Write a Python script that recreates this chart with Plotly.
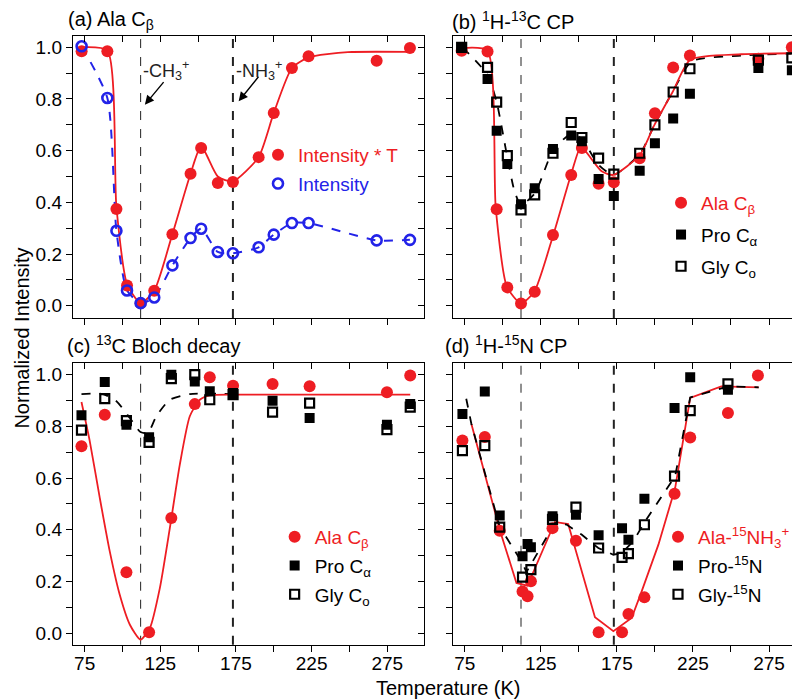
import plotly.graph_objects as go

FONT = "Liberation Sans, Arial, Helvetica, sans-serif"
RED = "#ee1d23"
BLUE = "#2323e8"
BLACK = "#000000"

# ---------------- tick labels / reference lines ----------------
x_tickvals = [75, 100, 125, 150, 175, 200, 225, 250, 275]
x_ticktext = ["75", "", "125", "", "175", "", "225", "", "275"]
y_tickvals = [0.0, 0.1, 0.2, 0.3, 0.4, 0.5, 0.6, 0.7, 0.8, 0.9, 1.0]
y_ticktext = ["0.0", "", "0.2", "", "0.4", "", "0.6", "", "0.8", "", "1.0"]
transition_T = [112, 173]
transition_width = [1.0, 2.0]

# ---------------- panel (a) Ala C-beta ----------------
T_cp = [73, 90, 96, 103, 112, 121, 133, 145, 152, 163, 173, 190, 200, 212, 223, 268, 290]
a_int_T = [0.985, 0.985, 0.374, 0.078, 0.010, 0.058, 0.277, 0.511, 0.610, 0.475, 0.479, 0.575, 0.746, 0.920, 0.965, 0.948, 0.997]
a_int = [1.004, 0.804, 0.290, 0.059, 0.010, 0.032, 0.156, 0.262, 0.298, 0.208, 0.203, 0.226, 0.275, 0.320, 0.320, 0.253, 0.255]
a_fit_T = [73, 90, 96, 103, 112, 121, 133, 145, 152, 163, 173, 190, 200, 212, 223, 249, 290]
a_fit = [1.0, 0.987, 0.381, 0.084, 0.010, 0.058, 0.277, 0.511, 0.617, 0.500, 0.481, 0.575, 0.746, 0.920, 0.961, 0.981, 0.982]

# ---------------- panel (b) 1H-13C CP ----------------
b_ala = [0.987, 0.984, 0.373, 0.071, 0.009, 0.054, 0.274, 0.506, 0.610, 0.472, 0.478, 0.571, 0.745, 0.922, 0.968, 0.956, 1.000]
b_pro = [1.000, 0.877, 0.677, 0.548, 0.393, 0.455, 0.606, 0.659, 0.636, 0.490, 0.425, 0.522, 0.629, 0.724, 0.820, 0.920, 0.911]
b_gly = [1.000, 0.922, 0.788, 0.581, 0.371, 0.429, 0.590, 0.709, 0.651, 0.571, 0.509, 0.590, 0.700, 0.827, 0.917, 0.950, 0.959]
b_fit_T = [73.5, 89.9, 95.4, 102.7, 111.9, 120.7, 133.2, 144.8, 151.4, 158, 165, 172.7, 190.2, 199.7, 211.8, 223.2, 256.8, 289.7]
b_fit = [0.997, 0.987, 0.377, 0.074, 0.009, 0.054, 0.274, 0.506, 0.616, 0.570, 0.520, 0.506, 0.584, 0.700, 0.829, 0.952, 0.973, 0.977]
b_dash_T = [73.5, 89.9, 96, 102.7, 107.5, 111.9, 121.1, 133.2, 144.8, 151.8, 163, 172.7, 190.2, 199.7, 211.8, 224.3, 256.8, 289.7]
b_dash = [1.0, 0.894, 0.788, 0.584, 0.448, 0.390, 0.435, 0.603, 0.664, 0.646, 0.545, 0.506, 0.588, 0.700, 0.829, 0.946, 0.968, 0.976]

# ---------------- panel (c) 13C Bloch decay ----------------
c_T = [72.9, 88.3, 102.6, 117.6, 132.3, 147.8, 157.7, 173.1, 199.2, 223.7, 274.8, 290.2]
c_ala = [0.723, 0.845, 0.235, 0.003, 0.445, 0.886, 0.990, 0.957, 0.964, 0.955, 0.932, 0.997]
c_pro = [0.843, 0.972, 0.806, 0.758, 1.000, 0.974, 0.936, 0.929, 0.899, 0.832, 0.806, 0.886]
c_gly = [0.785, 0.907, 0.822, 0.738, 0.985, 1.000, 0.903, 0.923, 0.855, 0.890, 0.787, 0.874]
c_fit_T = [72.9, 78.4, 85.0, 91.6, 98.2, 104.9, 111.9, 118.1, 124.7, 131.3, 137.9, 144.5, 151.1, 157.7, 173.1, 290.2]
c_fit = [0.894, 0.742, 0.523, 0.316, 0.148, 0.032, -0.026, 0.019, 0.174, 0.406, 0.652, 0.839, 0.903, 0.920, 0.923, 0.923]
c_dash_T = [72.9, 87.2, 96.0, 104.9, 111.9, 116.8, 122.4, 131.3, 144.5, 173.1]
c_dash = [0.925, 0.925, 0.897, 0.832, 0.778, 0.774, 0.839, 0.903, 0.925, 0.925]

# ---------------- panel (d) 1H-15N CP ----------------
d_ala_T = [73.5, 88.2, 98.0, 113.0, 116.3, 118.5, 132.7, 148.1, 163.0, 178.4, 182.6, 193.1, 212.9, 223.2, 248.0, 267.7]
d_ala = [0.745, 0.759, 0.396, 0.161, 0.142, 0.200, 0.406, 0.357, 0.003, 0.003, 0.074, 0.138, 0.539, 0.757, 0.852, 0.997]
d_pro_T = [73.5, 88.2, 98.0, 113.0, 116.3, 118.5, 132.7, 148.1, 163.0, 178.4, 182.6, 193.1, 212.9, 223.2, 248.0]
d_pro = [0.848, 0.935, 0.455, 0.297, 0.345, 0.332, 0.452, 0.458, 0.378, 0.406, 0.361, 0.520, 0.871, 0.990, 0.942]
d_gly_T = [73.5, 88.2, 98.0, 113.0, 118.5, 132.7, 148.1, 163.0, 178.4, 182.6, 193.1, 212.9, 223.2, 248.0]
d_gly = [0.706, 0.725, 0.410, 0.216, 0.245, 0.440, 0.487, 0.329, 0.293, 0.307, 0.419, 0.607, 0.861, 0.964]
d_fit_T = [79.4, 98.0, 109.0, 116.2, 134.3, 143.0, 160.6, 172.7, 184.7, 191.3, 202.3, 213.3, 223.2, 243.6, 268.2]
d_fit = [0.809, 0.400, 0.194, 0.183, 0.430, 0.422, 0.061, 0.007, 0.058, 0.161, 0.342, 0.561, 0.910, 0.955, 0.951]
d_dash_T = [76.0, 79.4, 98.0, 112.3, 115.6, 123.3, 134.3, 141.9, 151.8, 162.8, 172.7, 178.2, 185.8, 193.5, 213.3, 223.2, 248.4, 268.2]
d_dash = [0.907, 0.809, 0.411, 0.277, 0.236, 0.316, 0.426, 0.420, 0.381, 0.329, 0.303, 0.310, 0.355, 0.432, 0.607, 0.912, 0.955, 0.951]

# ---------------- layout geometry ----------------
x_range = [67.3, 299.3]
y_range_top = [-0.0476, 1.0426]
y_range_bot = [-0.0453, 1.0453]
dom_left = [0.08125, 0.52]
dom_right = [0.55625, 0.9975]
dom_top = [0.5571, 0.9596]
dom_bot = [0.0904, 0.4929]

fig = go.Figure()


def red_dots(x, y, xa, ya, name, legend):
    fig.add_trace(go.Scatter(x=x, y=y, mode="markers", xaxis=xa, yaxis=ya,
                             marker=dict(symbol="circle", size=12, color=RED),
                             name=name, legend=legend, legendgroup=legend + name))


def pro_sq(x, y, xa, ya, name, legend):
    fig.add_trace(go.Scatter(x=x, y=y, mode="markers", xaxis=xa, yaxis=ya,
                             marker=dict(symbol="square", size=10, color=BLACK),
                             name=name, legend=legend, legendgroup=legend + name))


def gly_sq(x, y, xa, ya, name, legend):
    fig.add_trace(go.Scatter(x=x, y=y, mode="markers", xaxis=xa, yaxis=ya,
                             marker=dict(symbol="square-open", size=9, color=BLACK,
                                         line=dict(width=2.2, color=BLACK)),
                             name=name, legend=legend, legendgroup=legend + name))


def line(x, y, xa, ya, color, dash, shape, width=1.8):
    fig.add_trace(go.Scatter(x=x, y=y, mode="lines", xaxis=xa, yaxis=ya,
                             line=dict(color=color, dash=dash, width=width, shape=shape,
                                       smoothing=0.6 if shape == "spline" else None),
                             showlegend=False, hoverinfo="skip"))


def red_name(s):
    return '<span style="color:%s">%s</span>' % (RED, s)


# panel a
line(a_fit_T, a_fit, "x", "y", RED, "solid", "spline")
line(T_cp, a_int, "x", "y", BLUE, "dash", "spline", 2.0)
red_dots(T_cp, a_int_T, "x", "y", red_name("Intensity * T"), "legend")
fig.add_trace(go.Scatter(x=T_cp, y=a_int, mode="markers", xaxis="x", yaxis="y",
                         marker=dict(symbol="circle-open", size=10, color=BLUE,
                                     line=dict(width=2.6, color=BLUE)),
                         name='<span style="color:%s">Intensity</span>' % BLUE,
                         legend="legend", legendgroup="legendInt"))

# panel b
line(b_dash_T, b_dash, "x2", "y2", BLACK, "dash", "spline")
line(b_fit_T, b_fit, "x2", "y2", RED, "solid", "spline")
red_dots(T_cp, b_ala, "x2", "y2", red_name("Ala C<sub>β</sub>"), "legend2")
pro_sq(T_cp, b_pro, "x2", "y2", "Pro C<sub>α</sub>", "legend2")
gly_sq(T_cp, b_gly, "x2", "y2", "Gly C<sub>o</sub>", "legend2")

# panel c
line(c_dash_T, c_dash, "x3", "y3", BLACK, "dash", "spline")
line(c_fit_T, c_fit, "x3", "y3", RED, "solid", "spline")
red_dots(c_T, c_ala, "x3", "y3", red_name("Ala C<sub>β</sub>"), "legend3")
pro_sq(c_T, c_pro, "x3", "y3", "Pro C<sub>α</sub>", "legend3")
gly_sq(c_T, c_gly, "x3", "y3", "Gly C<sub>o</sub>", "legend3")

# panel d
line(d_fit_T, d_fit, "x4", "y4", RED, "solid", "linear")
line(d_dash_T, d_dash, "x4", "y4", BLACK, "dash", "linear")
red_dots(d_ala_T, d_ala, "x4", "y4", red_name("Ala-<sup>15</sup>NH<sub>3</sub><sup>+</sup>"), "legend4")
pro_sq(d_pro_T, d_pro, "x4", "y4", "Pro-<sup>15</sup>N", "legend4")
gly_sq(d_gly_T, d_gly, "x4", "y4", "Gly-<sup>15</sup>N", "legend4")

# empty traces that carry the inward top/right tick axes
for k in range(5, 9):
    fig.add_trace(go.Scatter(x=[None], y=[None], xaxis="x%d" % k, yaxis="y%d" % k,
                             showlegend=False, hoverinfo="skip"))

panels = [
    ("", dom_left, dom_top, y_range_top, False, True),
    ("2", dom_right, dom_top, y_range_top, False, False),
    ("3", dom_left, dom_bot, y_range_bot, True, True),
    ("4", dom_right, dom_bot, y_range_bot, True, False),
]
tick_common = dict(ticklen=6, tickwidth=1.4, tickcolor=BLACK, showgrid=False, zeroline=False)
layout_axes = {}
for i, (s, xd, yd, yr, xlab, ylab) in enumerate(panels):
    n = i + 5
    layout_axes["xaxis" + s] = dict(domain=xd, anchor="y" + s, range=x_range, tickmode="array",
                                    tickvals=x_tickvals, ticktext=x_ticktext, showticklabels=xlab,
                                    ticklabelstandoff=-5,
                                    ticks="outside", showline=True, linewidth=1.4, linecolor=BLACK,
                                    mirror=True, **tick_common)
    layout_axes["yaxis" + s] = dict(domain=yd, anchor="x" + s, range=yr, tickmode="array",
                                    tickvals=y_tickvals, ticktext=y_ticktext, showticklabels=ylab,
                                    ticks="outside", showline=True, linewidth=1.4, linecolor=BLACK,
                                    mirror=True, **tick_common)
    layout_axes["xaxis%d" % n] = dict(overlaying="x" + s, anchor="y" + s, side="top", range=x_range,
                                      tickmode="array", tickvals=x_tickvals, showticklabels=False,
                                      ticks="inside", showline=False, **tick_common)
    layout_axes["yaxis%d" % n] = dict(overlaying="y" + s, anchor="x" + s, side="right", range=yr,
                                      tickmode="array", tickvals=y_tickvals, showticklabels=False,
                                      ticks="inside", showline=False, **tick_common)

shapes = []
for s in ["", "2", "3", "4"]:
    for t, w in zip(transition_T, transition_width):
        shapes.append(dict(type="line", xref="x" + s, yref="y%s domain" % s, x0=t, x1=t, y0=0, y1=1,
                           line=dict(color="#222222", width=w, dash="dash"), layer="below"))

ann_font = dict(family=FONT, size=20, color=BLACK)
annotations = [
    dict(text="(a) Ala C<sub>β</sub>", x=0.072, y=0.982, xref="paper", yref="paper",
         xanchor="left", yanchor="middle", showarrow=False, font=ann_font),
    dict(text="(b) <sup>1</sup>H-<sup>13</sup>C CP", x=0.5525, y=0.982, xref="paper", yref="paper",
         xanchor="left", yanchor="middle", showarrow=False, font=ann_font),
    dict(text="(c) <sup>13</sup>C Bloch decay", x=0.071, y=0.5186, xref="paper", yref="paper",
         xanchor="left", yanchor="middle", showarrow=False, font=ann_font),
    dict(text="(d) <sup>1</sup>H-<sup>15</sup>N CP", x=0.5435, y=0.5186, xref="paper", yref="paper",
         xanchor="left", yanchor="middle", showarrow=False, font=ann_font),
    dict(text="Normalized Intensity", x=0.017, y=0.5286, xref="paper", yref="paper",
         textangle=-90, xanchor="center", yanchor="middle", showarrow=False, font=ann_font),
    dict(text="Temperature (K)", x=0.55, y=0.029, xref="paper", yref="paper",
         xanchor="center", yanchor="middle", showarrow=False, font=ann_font),
    # arrows in panel (a)
    dict(x=114.8, y=0.778, xref="x", yref="y", ax=20, ay=-24, text="", showarrow=True,
         arrowhead=2, arrowsize=1.3, arrowwidth=1.4, arrowcolor=BLACK),
    dict(x=176.8, y=0.791, xref="x", yref="y", ax=21, ay=-26, text="", showarrow=True,
         arrowhead=2, arrowsize=1.3, arrowwidth=1.4, arrowcolor=BLACK),
    dict(text="-CH<sub>3</sub><sup>+</sup>", x=129.0, y=0.912, xref="x", yref="y",
         showarrow=False, font=dict(family=FONT, size=18, color="#222222")),
    dict(text="-NH<sub>3</sub><sup>+</sup>", x=190.5, y=0.912, xref="x", yref="y",
         showarrow=False, font=dict(family=FONT, size=18, color="#222222")),
]

leg_font = dict(family=FONT, size=19, color=BLACK)
leg_common = dict(font=leg_font, bgcolor="rgba(0,0,0,0)",
                  xanchor="left", yanchor="top", itemsizing="trace")
fig.update_layout(
    width=800, height=700,
    margin=dict(l=0, r=0, t=0, b=0),
    paper_bgcolor="white", plot_bgcolor="white",
    font=dict(family=FONT, size=19, color=BLACK),
    showlegend=True,
    legend=dict(x=0.3125, y=1 - 128 / 700, tracegroupgap=1, **leg_common),
    legend2=dict(x=0.8163, y=1 - 176 / 700, tracegroupgap=4, **leg_common),
    legend3=dict(x=0.3333, y=1 - 510 / 700, tracegroupgap=1, **leg_common),
    legend4=dict(x=0.8125, y=1 - 510 / 700, tracegroupgap=1, **leg_common),
    shapes=shapes,
    annotations=annotations,
    **layout_axes,
)

fig.write_html("out.html")
